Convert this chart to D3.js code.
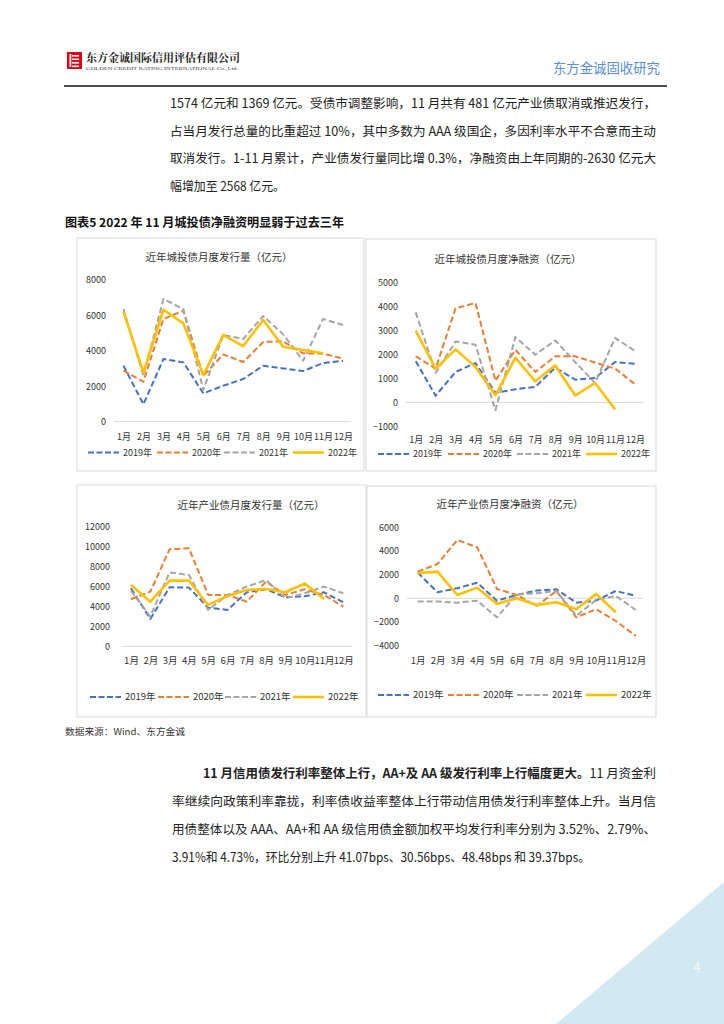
<!DOCTYPE html>
<html><head><meta charset="utf-8">
<script src="https://cdn.jsdelivr.net/npm/d3@7"></script>
<style>body{margin:0;background:#fff}svg{display:block}</style>
</head><body>
<svg id="pg" width="724" height="1024"></svg>
<script>
const months = ["1月","2月","3月","4月","5月","6月","7月","8月","9月","10月","11月","12月"];
const seriesNames = ["2019年","2020年","2021年","2022年"];
const seriesColors = ["#4472C4","#ED7D31","#A5A5A5","#FFC000"];

// 近年城投债月度发行量（亿元）
const ctIssue2019 = [3160,980,3540,3350,1600,2030,2410,3160,3010,2860,3310,3440];
const ctIssue2020 = [2880,2260,5800,6270,2580,3800,3370,4500,4540,3860,3840,3560];
const ctIssue2021 = [6360,2580,6930,6360,1790,4890,4670,5970,4930,3440,5800,5460];
const ctIssue2022 = [6210,2770,6320,5550,2630,4890,4270,5740,4230,4050,3860];
const ctIssueTicks = [0,2000,4000,6000,8000];

// 近年城投债月度净融资（亿元）
const ctNet2019 = [1720,280,1270,1640,400,550,650,1450,950,1020,1680,1610];
const ctNet2020 = [1920,1410,3920,4140,900,2190,1270,1920,1920,1660,1410,760];
const ctNet2021 = [3750,1230,2540,2400,-320,2720,1990,2580,1680,810,2690,2140];
const ctNet2022 = [2990,1410,2210,1480,300,1860,880,1540,290,810,-280];
const ctNetTicks = [-1000,0,1000,2000,3000,4000,5000];

// 近年产业债月度发行量（亿元）
const cyIssue2019 = [5820,2740,5920,5890,3880,3650,5420,5720,4920,5020,5420,4410];
const cyIssue2020 = [4720,5480,9730,9830,5150,5150,4480,6490,5150,5720,5150,3980];
const cyIssue2021 = [5580,2980,7420,7160,3650,5150,5990,6650,4820,5320,5990,5320];
const cyIssue2022 = [6150,4480,6590,6590,4150,5050,5650,5750,5420,6290,4750];
const cyIssueTicks = [0,2000,4000,6000,8000,10000,12000];

// 近年产业债月度净融资（亿元）
const cyNet2019 = [2170,510,850,1320,-200,280,650,760,-370,-200,620,200];
const cyNet2020 = [2250,2900,4930,4310,790,280,-650,620,-1610,-930,-1920,-3180];
const cyNet2021 = [-280,-280,-370,-200,-1610,340,420,620,-1490,-140,200,-990];
const cyNet2022 = [2110,2250,280,900,-480,0,-560,-340,-930,370,-1180];
const cyNetTicks = [-4000,-2000,0,2000,4000,6000];

const svg = d3.select("#pg");
const CN = "'Noto Sans CJK SC','Noto Sans',sans-serif";

// ---------- page decoration ----------
svg.append("polygon").attr("points","724,882 556,1024 724,1024").attr("fill","#d3e9f1");
svg.append("text").attr("x",697).attr("y",972).attr("fill","#f4fafc").attr("font-family",CN)
  .attr("font-size",13).attr("text-anchor","middle").text("4");

// header
const logo = svg.append("g");
logo.append("rect").attr("x",67).attr("y",52).attr("width",15).attr("height",17).attr("fill","#e60012");
[55,58.5,62,65.5].forEach(yy=>
  logo.append("rect").attr("x",72).attr("y",yy).attr("width",7).attr("height",1.6).attr("fill","#fff"));
logo.append("rect").attr("x",69.5).attr("y",54).attr("width",1.8).attr("height",13).attr("fill","#fff");
svg.append("text").attr("x",86).attr("y",62).attr("font-family","'Noto Serif CJK SC','Noto Sans CJK SC',serif")
  .attr("font-weight","bold").attr("font-size",11.5).attr("fill","#1a1a1a")
  .attr("textLength",154).attr("lengthAdjust","spacingAndGlyphs").text("东方金诚国际信用评估有限公司");
svg.append("text").attr("x",86).attr("y",69.5).attr("font-family","'Liberation Serif',serif")
  .attr("font-size",5).attr("fill","#444").attr("textLength",152).attr("lengthAdjust","spacingAndGlyphs")
  .text("GOLDEN CREDIT RATING INTERNATIONAL Co.,Ltd.");
svg.append("text").attr("x",660).attr("y",73).attr("text-anchor","end").attr("font-family",CN)
  .attr("font-size",14).attr("fill","#5b8ed8").attr("textLength",107).attr("lengthAdjust","spacingAndGlyphs")
  .text("东方金诚固收研究");
svg.append("line").attr("x1",64).attr("x2",667).attr("y1",86).attr("y2",86).attr("stroke","#111").attr("stroke-width",1.4);

// body text
const bodyLines = [
  {x:170,y:108,w:486,t:"1574 亿元和 1369 亿元。受债市调整影响，11 月共有 481 亿元产业债取消或推迟发行，"},
  {x:170,y:136,w:486,t:"占当月发行总量的比重超过 10%，其中多数为 AAA 级国企，多因利率水平不合意而主动"},
  {x:170,y:163,w:486,t:"取消发行。1-11 月累计，产业债发行量同比增 0.3%，净融资由上年同期的-2630 亿元大"},
  {x:170,y:191,w:115,t:"幅增加至 2568 亿元。"}
];
bodyLines.forEach(l=>svg.append("text").attr("x",l.x).attr("y",l.y).attr("font-family",CN)
  .attr("font-size",12.5).attr("fill","#222").attr("textLength",l.w).attr("lengthAdjust","spacingAndGlyphs").text(l.t));

svg.append("text").attr("x",65).attr("y",227).attr("font-family",CN).attr("font-weight","bold")
  .attr("font-size",12).attr("fill","#111").attr("textLength",279).attr("lengthAdjust","spacingAndGlyphs")
  .text("图表5  2022 年 11 月城投债净融资明显弱于过去三年");

svg.append("text").attr("x",65).attr("y",735).attr("font-family",CN).attr("font-size",9)
  .attr("fill","#333").attr("textLength",120).attr("lengthAdjust","spacingAndGlyphs").text("数据来源：Wind、东方金诚");

const p1 = svg.append("text").attr("x",203).attr("y",778).attr("font-family",CN).attr("font-size",12.5).attr("fill","#222")
  .attr("textLength",453).attr("lengthAdjust","spacingAndGlyphs");
p1.append("tspan").attr("font-weight","bold").text("11 月信用债发行利率整体上行，AA+及 AA 级发行利率上行幅度更大。");
p1.append("tspan").text("11 月资金利");
const bottomLines = [
  {x:172,y:806,w:484,t:"率继续向政策利率靠拢，利率债收益率整体上行带动信用债发行利率整体上升。当月信"},
  {x:172,y:834,w:484,t:"用债整体以及 AAA、AA+和 AA 级信用债金额加权平均发行利率分别为 3.52%、2.79%、"},
  {x:172,y:862,w:418,t:"3.91%和 4.73%，环比分别上升 41.07bps、30.56bps、48.48bps 和 39.37bps。"}
];
bottomLines.forEach(l=>svg.append("text").attr("x",l.x).attr("y",l.y).attr("font-family",CN)
  .attr("font-size",12.5).attr("fill","#222").attr("textLength",l.w).attr("lengthAdjust","spacingAndGlyphs").text(l.t));

// ---------- charts ----------
function chart(cfg){
  const g = svg.append("g");
  g.append("rect").attr("x",cfg.box[0]).attr("y",cfg.box[1]).attr("width",cfg.box[2]-cfg.box[0])
    .attr("height",cfg.box[3]-cfg.box[1]).attr("fill","#fff").attr("stroke","#d9d9d9").attr("stroke-width",1);
  g.append("text").attr("x",cfg.titleX).attr("y",cfg.titleY).attr("text-anchor","middle")
    .attr("font-family",CN).attr("font-size",10.5).attr("fill","#333").text(cfg.title);
  const x = d3.scalePoint().domain(months).range(cfg.xr);
  const y = d3.scaleLinear().domain(cfg.yd).range(cfg.yr);
  g.append("line").attr("x1",cfg.gx[0]).attr("x2",cfg.gx[1]).attr("y1",y(0)).attr("y2",y(0))
    .attr("stroke","#d9d9d9").attr("stroke-width",1);
  const ya = g.append("g").attr("transform",`translate(${cfg.labX},0)`)
    .call(d3.axisLeft(y).tickValues(cfg.ticks).tickSize(0).tickPadding(0).tickFormat(d3.format("d")));
  ya.select(".domain").remove();
  ya.selectAll("text").attr("font-family",CN).attr("font-size",9).attr("fill","#333");
  const xa = g.append("g").attr("transform",`translate(0,${cfg.xLabY})`)
    .call(d3.axisBottom(x).tickSize(0).tickPadding(0));
  xa.select(".domain").remove();
  xa.selectAll("text").attr("font-family",CN).attr("font-size",cfg.xfs||9.5).attr("fill","#333").attr("dy","0.35em");
  const line = d3.line().x((d,i)=>x(months[i])).y(d=>y(d));
  cfg.data.forEach((arr,k)=>{
    g.append("path").datum(arr).attr("d",line).attr("fill","none")
      .attr("stroke",seriesColors[k]).attr("stroke-width",k===3?2.6:2)
      .attr("stroke-dasharray",k===3?null:"6,3").attr("stroke-linejoin","round");
  });
  cfg.legX.forEach((lx,k)=>{
    g.append("line").attr("x1",lx).attr("x2",lx+31).attr("y1",cfg.legY).attr("y2",cfg.legY)
      .attr("stroke",seriesColors[k]).attr("stroke-width",k===3?2.6:2).attr("stroke-dasharray",k===3?null:"6,2.5");
    g.append("text").attr("x",lx+35).attr("y",cfg.legY).attr("dy","0.35em").attr("font-family",CN)
      .attr("font-size",cfg.lfs||9.5).attr("fill","#333").text(seriesNames[k]);
  });
}

chart({box:[77,238,364,471], title:"近年城投债月度发行量（亿元）", titleX:219, titleY:261,
  xr:[123.5,343], yd:[0,8000], yr:[421.7,280], ticks:ctIssueTicks, gx:[114,351], labX:106,
  xLabY:437, legY:452.5, legX:[88,157,224,293], xfs:9, lfs:9,
  data:[ctIssue2019,ctIssue2020,ctIssue2021,ctIssue2022]});

chart({box:[366,239,656,471], title:"近年城投债月度净融资（亿元）", titleX:508, titleY:263,
  xr:[415.7,635], yd:[-1000,5000], yr:[426.5,282.3], ticks:ctNetTicks, gx:[406,643], labX:398,
  xLabY:439.5, legY:454, legX:[378,448,517,586], xfs:9, lfs:9,
  data:[ctNet2019,ctNet2020,ctNet2021,ctNet2022]});

chart({box:[77,485,366,717], title:"近年产业债月度发行量（亿元）", titleX:251, titleY:509,
  xr:[131,343.3], yd:[0,12000], yr:[646.3,526.7], ticks:cyIssueTicks, gx:[122,352], labX:110,
  xLabY:661, legY:697, legX:[90,158,225,293],
  data:[cyIssue2019,cyIssue2020,cyIssue2021,cyIssue2022]});

chart({box:[367,486,656,717], title:"近年产业债月度净融资（亿元）", titleX:510, titleY:508,
  xr:[417.7,635.7], yd:[-4000,6000], yr:[645.6,527.3], ticks:cyNetTicks, gx:[406.7,643], labX:399,
  xLabY:661, legY:695, legX:[378,448,517,586],
  data:[cyNet2019,cyNet2020,cyNet2021,cyNet2022]});
</script>
</body></html>
